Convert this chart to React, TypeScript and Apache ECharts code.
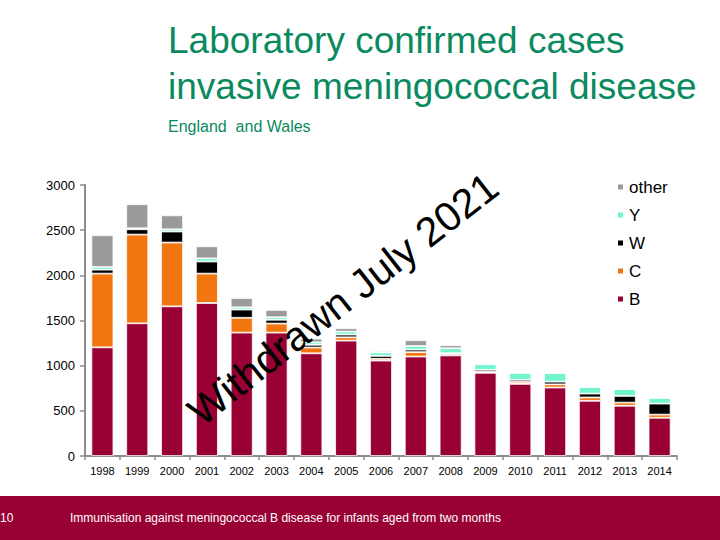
import React, { useEffect, useRef } from "react";
import * as echarts from "echarts";

const years = ["1998","1999","2000","2001","2002","2003","2004","2005","2006","2007","2008","2009","2010","2011","2012","2013","2014"];
const serB = [1203, 1469, 1657, 1694, 1366, 1366, 1137, 1277, 1056, 1101, 1113, 921, 798, 758, 611, 556, 423];
const serC = [816, 982, 706, 325, 164, 100, 64, 37, 20, 49, 17, 10, 22, 35, 37, 35, 35];
const serW = [44, 59, 122, 134, 91, 42, 30, 30, 32, 28, 8, 23, 23, 30, 43, 74, 122];
const serY = [29, 11, 24, 35, 25, 28, 27, 33, 38, 39, 55, 61, 77, 94, 73, 76, 62];
const serOther = [351, 266, 155, 133, 103, 81, 42, 37, 13, 64, 33, 11, 3, 12, 2, 2, 2];
const yTicks = [0, 500, 1000, 1500, 2000, 2500, 3000];

const FONT = "Liberation Sans, Arial, sans-serif";

export default function App() {
  const ref = useRef<HTMLDivElement>(null);
  useEffect(() => {
    if (!ref.current) return;
    const chart = echarts.init(ref.current, undefined, { renderer: "svg" });
    const mk = (name: string, data: number[], color: string) => ({
      name,
      type: "bar",
      stack: "total",
      data,
      barWidth: 22,
      itemStyle: { color, borderColor: "#ffffff", borderWidth: 0.8 },
      emphasis: { disabled: true },
    });
    chart.setOption({
      animation: false,
      backgroundColor: "#ffffff",
      textStyle: { fontFamily: FONT },
      grid: { left: 85, right: 43, top: 185, bottom: 84, containLabel: false },
      legend: {
        orient: "vertical",
        left: 616,
        top: 178,
        padding: 0,
        itemWidth: 7,
        itemHeight: 7,
        itemGap: 10,
        icon: "rect",
        data: ["other", "Y", "W", "C", "B"],
        textStyle: { fontSize: 17, lineHeight: 18, color: "#000", fontFamily: FONT },
      },
      xAxis: {
        type: "category",
        data: years,
        axisLine: { lineStyle: { color: "#8c8c8c", width: 2 } },
        axisTick: { show: true, length: 4, alignWithLabel: false, lineStyle: { color: "#8c8c8c", width: 1.5 } },
        axisLabel: { fontSize: 11, color: "#000", margin: 9, interval: 0, fontFamily: FONT },
      },
      yAxis: {
        type: "value",
        min: yTicks[0],
        max: yTicks[yTicks.length - 1],
        interval: 500,
        splitLine: { show: false },
        axisLine: { show: true, lineStyle: { color: "#8c8c8c", width: 2 } },
        axisTick: { show: true, length: 5, lineStyle: { color: "#8c8c8c", width: 1.5 } },
        axisLabel: {
          fontSize: 13,
          color: "#000",
          margin: 10,
          fontFamily: FONT,
          formatter: (v: number) => String(v),
        },
      },
      series: [
        mk("B", serB, "#990033"),
        mk("C", serC, "#f2760f"),
        mk("W", serW, "#000000"),
        mk("Y", serY, "#70f5cf"),
        mk("other", serOther, "#9a9a9a"),
      ],
      graphic: [
        {
          type: "text",
          left: 168,
          top: 22,
          style: { text: "Laboratory confirmed cases", fontSize: 37, fill: "#0a8a5e", fontFamily: FONT },
        },
        {
          type: "text",
          left: 168,
          top: 68,
          style: { text: "invasive meningococcal disease", fontSize: 37, fill: "#0a8a5e", fontFamily: FONT },
        },
        {
          type: "text",
          left: 168,
          top: 118,
          style: { text: "England  and Wales", fontSize: 16, fill: "#0a8a5e", fontFamily: FONT },
        },
        {
          type: "text",
          x: 343,
          y: 299,
          rotation: 0.665,
          z: 100,
          style: {
            text: "Withdrawn July 2021",
            fontSize: 41,
            fill: "#000",
            fontFamily: FONT,
            align: "center",
            verticalAlign: "middle",
          },
        },
        {
          type: "rect",
          shape: { x: 0, y: 496, width: 720, height: 44 },
          style: { fill: "#990033" },
          z: 50,
        },
        {
          type: "text",
          x: 0,
          y: 518,
          z: 51,
          style: { text: "10", fontSize: 12, fill: "#ffffff", fontFamily: FONT, verticalAlign: "middle" },
        },
        {
          type: "text",
          x: 70,
          y: 518,
          z: 51,
          style: {
            text: "Immunisation against meningococcal B disease for infants aged from two months",
            fontSize: 12,
            fill: "#ffffff",
            fontFamily: FONT,
            verticalAlign: "middle",
          },
        },
      ],
    });
    return () => chart.dispose();
  }, []);
  return (
    <div
      ref={ref}
      style={{ position: "fixed", left: 0, top: 0, width: 720, height: 540 }}
    />
  );
}
